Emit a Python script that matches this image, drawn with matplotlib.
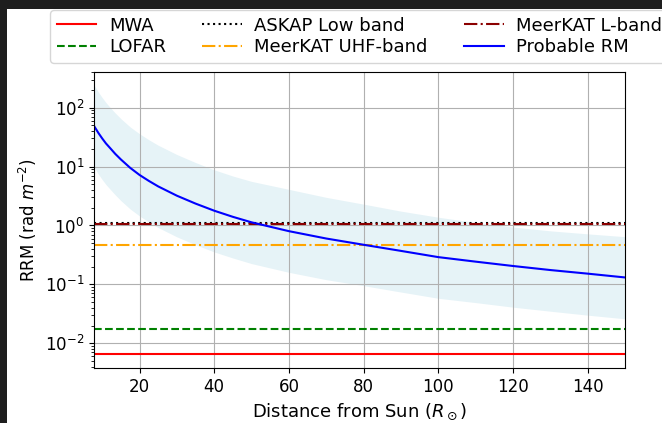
import matplotlib
matplotlib.use("Agg")
import matplotlib.pyplot as plt
from matplotlib.patches import Rectangle

# Distance from Sun (solar radii) and RRM values
distance = [7.8, 9, 10, 11, 12, 13.5, 15, 17.5, 20, 22.5, 25, 30, 35, 40, 45, 50,
            60, 70, 80, 90, 100, 110, 120, 130, 140, 150]
rm_probable = [49, 37, 30, 24.7, 21, 16.4, 13.2, 9.5, 7.2, 5.7, 4.6, 3.2, 2.35, 1.78,
               1.4, 1.13, 0.8, 0.6, 0.47, 0.37, 0.29, 0.243, 0.205, 0.175, 0.152, 0.131]
rm_upper = [243, 183, 148, 122, 103, 81, 65, 47, 36, 28.5, 23, 16, 11.7, 8.8, 6.9, 5.6,
            4.1, 3.0, 2.3, 1.75, 1.38, 1.12, 0.94, 0.81, 0.72, 0.645]
rm_lower = [9.8, 7.4, 6.0, 4.95, 4.2, 3.3, 2.64, 1.9, 1.45, 1.14, 0.92, 0.64, 0.47,
            0.355, 0.28, 0.225, 0.16, 0.12, 0.095, 0.074, 0.058, 0.049, 0.041, 0.035,
            0.030, 0.026]

# Instrument sensitivity levels
instruments = ["MWA", "LOFAR", "ASKAP Low band", "MeerKAT UHF-band", "MeerKAT L-band"]
levels = [0.0065, 0.0177, 1.08, 0.47, 1.06]
colors = ["red", "green", "black", "orange", "darkred"]
styles = ["-", "--", ":", "-.", "-."]

plt.rcParams["font.size"] = 12

fig = plt.figure(figsize=(6.62, 4.23), dpi=100)
fig.patch.set_facecolor("#1e1e1e")
fig.add_artist(Rectangle((7 / 662, 0), 1, (423 - 9) / 423, transform=fig.transFigure,
                         facecolor="white", edgecolor="none", zorder=-10))

ax = fig.add_axes([94 / 662, (423 - 368) / 423, (625 - 94) / 662, (368 - 71.7) / 423])

for name, lvl, c, ls in zip(instruments, levels, colors, styles):
    ax.axhline(lvl, color=c, linestyle=ls, label=name, lw=1.5)

ax.fill_between(distance, rm_lower, rm_upper, color="lightblue", alpha=0.3, lw=0)
ax.plot(distance, rm_probable, color="blue", lw=1.5, label="Probable RM")

ax.set_yscale("log")
ax.set_xlim(7.8, 150)
ax.set_ylim(0.0038, 408)
ax.set_xticks([20, 40, 60, 80, 100, 120, 140])
ax.grid(True)
ax.set_xlabel(r"Distance from Sun ($R_\odot$)", fontsize=13)
ax.set_ylabel(r"RRM (rad $m^{-2}$)", fontsize=12)

ax.legend(loc="lower center", bbox_to_anchor=(0.5, 1.0), ncol=3, fontsize=13,
          labelspacing=0.2, borderpad=0.35, handlelength=2.2, handletextpad=0.7,
          columnspacing=2.0)

fig.savefig("out.png", dpi=100, facecolor=fig.get_facecolor())
